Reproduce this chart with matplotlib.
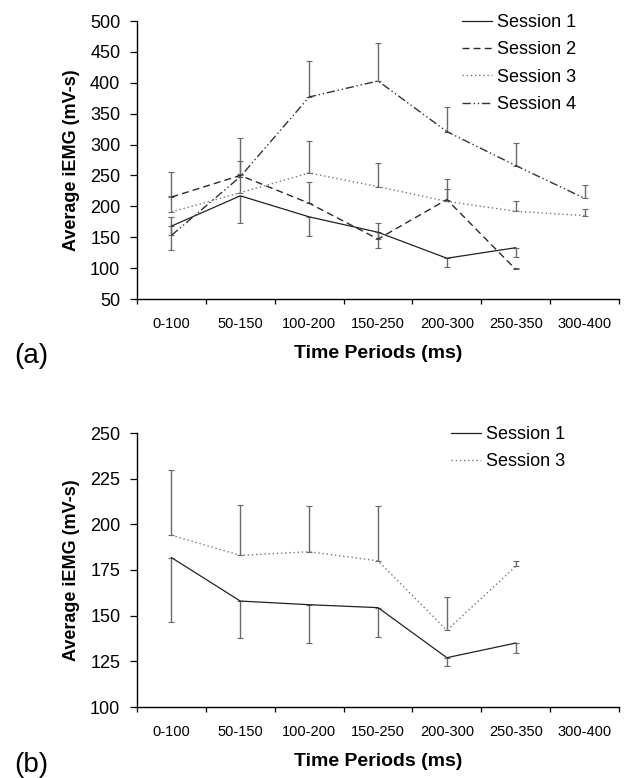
import numpy as np
import matplotlib
matplotlib.use('Agg')
import matplotlib.pyplot as plt

plt.rcParams['font.family'] = ['Liberation Sans', 'DejaVu Sans']

periods = ['0-100', '50-150', '100-200', '150-250', '200-300', '250-350', '300-400']
nan = np.nan

# panel (a): means and one-sided error bars
a_s1 = [168, 217, 183, 158, 116, 133, nan]
a_s1_err = [38, 44, 31, 25, 15, 15, nan]        # drawn downward
a_s2 = [215, 250, 205, 147, 211, 98, nan]
a_s2_err = [40, 24, 35, 26, 34, 2, nan]         # upward
a_s3 = [191, 222, 254, 232, 208, 192, 185]
a_s3_err = [25, 30, 52, 38, 20, 16, 10]
a_s4 = [153, 248, 377, 403, 321, 266, 213]
a_s4_err = [30, 62, 58, 61, 39, 36, 21]

# panel (b)
b_s1 = [181.8, 158, 156, 154.4, 127, 135, nan]
b_s1_err = [35.5, 20, 21, 16, 4.6, 5.5, nan]
b_s3 = [194, 183, 185, 180, 142, 177, nan]
b_s3_err = [35.5, 27.5, 25, 30, 18, 3, nan]

styles = {
    'Session 1': dict(color='#222222', lw=0.9, ls='-'),
    'Session 2': dict(color='#2a2a2a', lw=1.0, ls=(0, (5, 3))),
    'Session 3': dict(color='#777777', lw=1.0, ls=(0, (1, 2))),
    'Session 4': dict(color='#333333', lw=1.0, ls=(0, (6, 2, 1, 2, 1, 2))),
}


def draw(ax, series, ylim, yticks):
    x = np.arange(len(periods))
    for name, vals, err, down in series:
        vals = np.array(vals, float)
        err = np.array(err, float)
        zero = np.zeros_like(err)
        yerr = [err, zero] if down else [zero, err]
        ax.errorbar(x, vals, yerr=yerr, fmt='none', ecolor='#6a6a6a',
                    elinewidth=1.0, capsize=2, capthick=0.8, zorder=1)
        ax.plot(x, vals, label=name, zorder=2, **styles[name])
    ax.set_xlim(-0.5, len(periods) - 0.5)
    ax.set_ylim(*ylim)
    ax.set_yticks(yticks)
    ax.set_xticks(np.arange(len(periods) + 1) - 0.5)
    ax.set_xticklabels([])
    ax.set_xticks(x, minor=True)
    ax.set_xticklabels(periods, minor=True, fontsize=10.5)
    ax.tick_params(axis='x', which='major', length=3.5, width=0.9)
    ax.tick_params(axis='x', which='minor', length=0, pad=13)
    ax.tick_params(axis='y', length=5, width=0.9, pad=7, labelsize=13)
    for s in ['top', 'right']:
        ax.spines[s].set_visible(False)
    for s in ['left', 'bottom']:
        ax.spines[s].set_linewidth(1.0)
    ax.set_xlabel('Time Periods (ms)', fontsize=14, fontweight='bold', labelpad=10)
    ax.set_ylabel('Average iEMG (mV-s)', fontsize=13, fontweight='bold', labelpad=7)


fig = plt.figure(figsize=(6.27, 7.78), dpi=100)
ax1 = fig.add_axes([137 / 627, 1 - 299 / 778, 482 / 627, 278 / 778])
ax2 = fig.add_axes([137 / 627, 1 - 707 / 778, 482 / 627, 274 / 778])

draw(ax1, [('Session 1', a_s1, a_s1_err, True),
           ('Session 2', a_s2, a_s2_err, False),
           ('Session 3', a_s3, a_s3_err, False),
           ('Session 4', a_s4, a_s4_err, False)],
     (50, 500), np.arange(50, 501, 50))
draw(ax2, [('Session 1', b_s1, b_s1_err, True),
           ('Session 3', b_s3, b_s3_err, False)],
     (100, 250), np.arange(100, 251, 25))

leg_kw = dict(frameon=False, fontsize=13, handlelength=1.65, handletextpad=0.3,
              labelspacing=0.57, borderpad=0, borderaxespad=0, loc='upper left')
ax1.legend(bbox_transform=fig.transFigure, bbox_to_anchor=(462 / 627, 1 - 14 / 778), **leg_kw)
ax2.legend(bbox_transform=fig.transFigure, bbox_to_anchor=(451 / 627, 1 - 426 / 778), **leg_kw)

fig.text(14 / 627, 1 - 356 / 778, '(a)', fontsize=20, va='center', ha='left')
fig.text(14 / 627, 1 - 765 / 778, '(b)', fontsize=20, va='center', ha='left')

fig.savefig('out.png', dpi=100)
